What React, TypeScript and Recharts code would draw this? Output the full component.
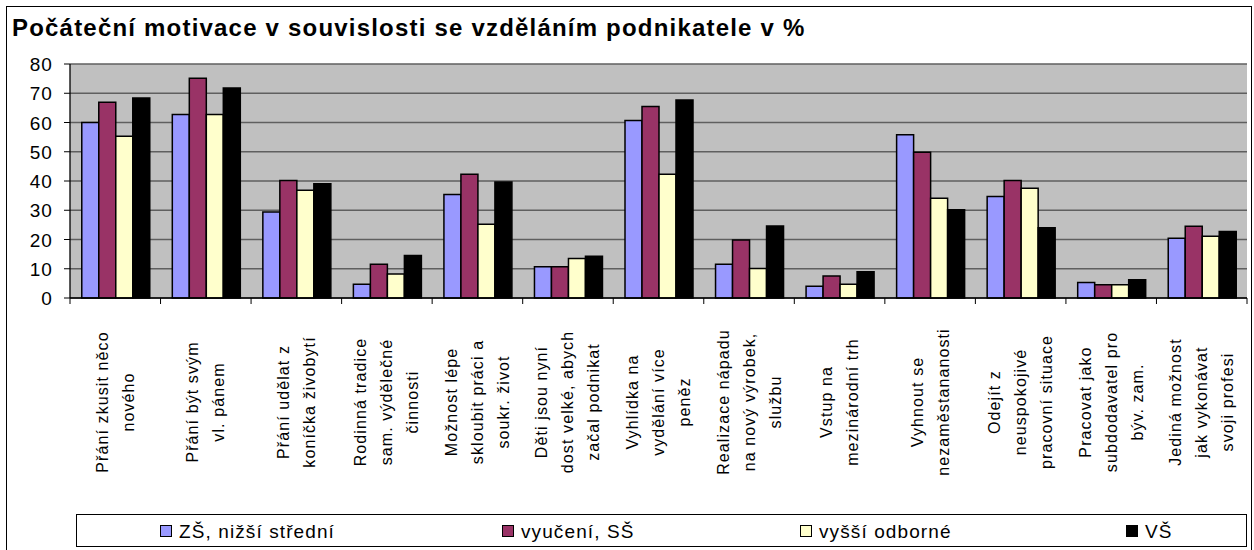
import React from 'react';
import { BarChart, Bar, XAxis, YAxis, CartesianGrid, Legend } from 'recharts';

const FONT = '"Liberation Sans", Arial, sans-serif';

// category labels, "\n" = line break as in the original axis
const categories = [
    'Přání zkusit něco\nnového',
    'Přání být svým\nvl. pánem',
    'Přání udělat z\nkoníčka živobytí',
    'Rodinná tradice\nsam. výdělečné\nčinnosti',
    'Možnost lépe\nskloubit práci a\nsoukr. život',
    'Děti jsou nyní\ndost velké, abych\nzačal podnikat',
    'Vyhlídka na\nvydělání více\npeněz',
    'Realizace nápadu\nna nový výrobek,\nslužbu',
    'Vstup na\nmezinárodní trh',
    'Vyhnout se\nnezaměstananosti',
    'Odejít z\nneuspokojivé\npracovní situace',
    'Pracovat jako\nsubdodavatel pro\nbýv. zam.',
    'Jediná možnost\njak vykonávat\nsvoji profesi',
];

const zsNizsiStredni = [60.0, 62.7, 29.4, 4.7, 35.4, 10.7, 60.7, 11.5, 4.0, 55.8, 34.7, 5.3, 20.4];
const vyuceniSS = [66.9, 75.1, 40.2, 11.5, 42.3, 10.7, 65.5, 19.8, 7.5, 49.8, 40.2, 4.5, 24.5];
const vyssiOdborne = [55.3, 62.7, 36.8, 8.2, 25.2, 13.5, 42.3, 10.1, 4.7, 34.1, 37.5, 4.5, 21.1];
const vs = [68.4, 71.8, 39.1, 14.5, 39.7, 14.3, 67.7, 24.6, 9.0, 30.2, 24.0, 6.2, 22.7];

const yTicks = [0, 10, 20, 30, 40, 50, 60, 70, 80];

const series = [
    { key: 'zs', name: 'ZŠ, nižší střední', color: '#9999FF', legendX: 160 },
    { key: 'vyuc', name: 'vyučení, SŠ', color: '#993366', legendX: 502 },
    { key: 'vyssi', name: 'vyšší odborné', color: '#FFFFCC', legendX: 800 },
    { key: 'vs', name: 'VŠ', color: '#000000', legendX: 1126 },
];

const data = categories.map((c, i) => ({
    name: c,
    zs: zsNizsiStredni[i],
    vyuc: vyuceniSS[i],
    vyssi: vyssiOdborne[i],
    vs: vs[i],
}));

const PLOT_LEFT = 70;
const PLOT_RIGHT = 1247;
const PLOT_TOP = 64;
const PLOT_BOTTOM = 298;
const BAND = (PLOT_RIGHT - PLOT_LEFT) / categories.length;
const LABEL_CY = 402;
const LEGEND_LEFT = 76;

function CategoryTick(props: any) {
    const { x, payload, index } = props;
    const lines = String(payload.value).split('\n');
    const n = lines.length;
    return (
        <g>
            <line x1={x - BAND / 2} x2={x - BAND / 2} y1={PLOT_BOTTOM} y2={PLOT_BOTTOM + 6} stroke="#000" />
            {index === categories.length - 1 && (
                <line x1={x + BAND / 2} x2={x + BAND / 2} y1={PLOT_BOTTOM} y2={PLOT_BOTTOM + 6} stroke="#000" />
            )}
            <g transform={`translate(${x},${LABEL_CY}) rotate(-90)`}>
                <text textAnchor="middle" fontSize={16} letterSpacing={1.1} fill="#000" fontFamily={FONT}>
                    {lines.map((l, i) => (
                        <tspan key={i} x={0} y={(i - (n - 1) / 2) * 26 + 5.5}>{l}</tspan>
                    ))}
                </text>
            </g>
        </g>
    );
}

function ValueTick(props: any) {
    const { x, y, payload } = props;
    return (
        <text x={x} y={y} dy={7} textAnchor="end" fontSize={19} letterSpacing={1.1} fill="#000" fontFamily={FONT}>
            {payload.value}
        </text>
    );
}

function LegendBox() {
    return (
        <div style={{
            position: 'relative', width: PLOT_RIGHT - LEGEND_LEFT, height: 33, boxSizing: 'border-box',
            border: '1px solid #000', background: '#fff', fontFamily: FONT,
        }}>
            {series.map(s => (
                <div key={s.key} style={{
                    position: 'absolute', left: s.legendX - LEGEND_LEFT - 1, top: 0, height: 31,
                    display: 'flex', alignItems: 'center', whiteSpace: 'nowrap',
                }}>
                    <span style={{
                        display: 'inline-block', width: 12, height: 12, boxSizing: 'border-box',
                        background: s.color, border: '1.5px solid #000', marginRight: 7,
                    }} />
                    <span style={{ fontSize: 19, letterSpacing: 1.1, color: '#000', lineHeight: '31px', paddingTop: 1 }}>{s.name}</span>
                </div>
            ))}
        </div>
    );
}

export default function App() {
    return (
        <div style={{ position: 'absolute', left: 0, top: 0, width: 1254, height: 550, overflow: 'hidden', background: '#fff', fontFamily: FONT }}>
            {/* outer frame */}
            <div style={{ position: 'absolute', left: 6, top: 6, width: 1246, height: 600, border: '1px solid #000', boxSizing: 'border-box' }} />

            <svg width={1254} height={50} style={{ position: 'absolute', left: 0, top: 0 }}>
                <text x={12} y={36} fontSize={24} fontWeight="bold" letterSpacing={1.2} fill="#000" fontFamily={FONT}>
                    Počáteční motivace v souvislosti se vzděláním podnikatele v %
                </text>
            </svg>

            <div style={{ position: 'absolute', left: 0, top: 0 }}>
                <BarChart
                    width={1254}
                    height={550}
                    data={data}
                    margin={{ top: PLOT_TOP, right: 1254 - PLOT_RIGHT, bottom: 0, left: 0 }}
                    barGap={0}
                    barCategoryGap="13%"
                >
                    <CartesianGrid vertical={false} fill="#C0C0C0" stroke="#5f5f5f" strokeWidth={1.3} fillOpacity={1} />
                    <XAxis
                        dataKey="name"
                        height={550 - PLOT_BOTTOM}
                        interval={0}
                        tickLine={false}
                        axisLine={{ stroke: '#000', strokeWidth: 1.3 }}
                        tick={(p: any) => <CategoryTick {...p} />}
                    />
                    <YAxis
                        width={PLOT_LEFT}
                        domain={[0, 80]}
                        ticks={yTicks}
                        interval={0}
                        tickSize={6}
                        tickMargin={11}
                        axisLine={{ stroke: '#000', strokeWidth: 1.3 }}
                        tickLine={{ stroke: '#000' }}
                        tick={(p: any) => <ValueTick {...p} />}
                    />
                    <YAxis
                        yAxisId="r"
                        orientation="right"
                        width={0}
                        domain={[0, 80]}
                        tick={false}
                        tickLine={false}
                        axisLine={{ stroke: '#808080', strokeWidth: 1.5 }}
                    />
                    {series.map(s => (
                        <Bar
                            key={s.key}
                            dataKey={s.key}
                            name={s.name}
                            fill={s.color}
                            stroke="#000"
                            strokeWidth={1.5}
                            isAnimationActive={false}
                        />
                    ))}
                    <Legend
                        layout="vertical"
                        align="center"
                        verticalAlign="middle"
                        content={() => <LegendBox />}
                        wrapperStyle={{ left: LEGEND_LEFT, top: 514, width: PLOT_RIGHT - LEGEND_LEFT, height: 33 }}
                    />
                </BarChart>
            </div>
        </div>
    );
}
